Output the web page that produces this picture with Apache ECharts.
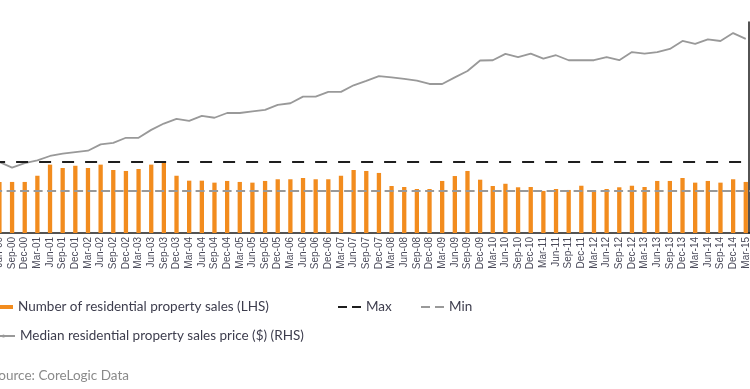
<!DOCTYPE html>
<html>
<head>
<meta charset="utf-8">
<script src="https://cdn.jsdelivr.net/npm/echarts@6/dist/echarts.min.js"></script>
<style>html,body{margin:0;padding:0;background:#fff;}#c{width:750px;height:389px;}</style>
</head>
<body>
<div id="c"></div>
<script>
var quarters = ['Jun-00','Sep-00','Dec-00','Mar-01','Jun-01','Sep-01','Dec-01','Mar-02','Jun-02','Sep-02','Dec-02','Mar-03','Jun-03','Sep-03','Dec-03','Mar-04','Jun-04','Sep-04','Dec-04','Mar-05','Jun-05','Sep-05','Dec-05','Mar-06','Jun-06','Sep-06','Dec-06','Mar-07','Jun-07','Sep-07','Dec-07','Mar-08','Jun-08','Sep-08','Dec-08','Mar-09','Jun-09','Sep-09','Dec-09','Mar-10','Jun-10','Sep-10','Dec-10','Mar-11','Jun-11','Sep-11','Dec-11','Mar-12','Jun-12','Sep-12','Dec-12','Mar-13','Jun-13','Sep-13','Dec-13','Mar-14','Jun-14','Sep-14','Dec-14','Mar-15'];

var salesCount = [36300,36300,36300,40700,48600,46200,47800,46200,48600,44800,44100,45500,48600,50700,40700,37200,37200,35800,37000,36300,35800,37000,38200,38200,39100,38200,38200,40700,44800,44100,42700,33400,32700,31300,31300,37000,40500,44100,37900,33400,35000,32500,32700,29900,31300,30600,33600,30100,31300,32500,33600,32700,37000,37000,39100,35800,37000,35800,38200,36300];

var medianPrice = [269000,248000,265000,275000,292000,301000,307000,312000,336000,342000,361000,361000,391000,415000,433000,425000,444000,437000,455000,455000,461000,467000,486000,492000,517000,517000,535000,535000,560000,577000,595000,590000,584000,578000,565000,565000,590000,614000,654000,655000,679000,667000,680000,661000,674000,655000,655000,655000,667000,655000,686000,680000,686000,698000,728000,717000,734000,728000,758000,736000];

var maxSales = 50700;
var minSales = 29900;

var seriesNames = {
  sales: 'Number of residential property sales (LHS)',
  price: 'Median residential property sales price ($) (RHS)',
  max: 'Max',
  min: 'Min'
};

var FONT = 'Lato';
var textCol = '#3d3d4d';
var legendText = {color: textCol, fontSize: 13.5, fontFamily: FONT};
var dashIcon = 'path://M0 0h9v2H0zM14 0h9v2h-9z';

var chart = echarts.init(document.getElementById('c'), null, {renderer: 'canvas'});
chart.setOption({
  animation: false,
  backgroundColor: '#ffffff',
  grid: {left: -6.9, right: -2.1, top: 22, bottom: 156, containLabel: false, outerBoundsMode: 'none'},
  xAxis: {
    type: 'category',
    data: quarters,
    boundaryGap: true,
    axisLine: {show: true, lineStyle: {color: '#1a1a1a', width: 1.5}},
    axisTick: {show: false},
    axisLabel: {interval: 0, rotate: 90, fontSize: 10, color: '#4a4a5a', fontFamily: 'Liberation Sans', margin: 4},
    splitLine: {show: false}
  },
  yAxis: [
    {type: 'value', min: 0, max: 150000, show: false, splitLine: {show: false}},
    {type: 'value', min: 0, max: 800000, position: 'right', offset: -3,
     axisLine: {show: true, lineStyle: {color: '#1a1a1a', width: 1.5}},
     axisTick: {show: false}, axisLabel: {show: false}, splitLine: {show: false}}
  ],
  legend: [
    {left: -10, top: 300, padding: 0, itemWidth: 23, itemHeight: 4, textStyle: legendText,
     data: [{name: seriesNames.sales, icon: 'rect'}]},
    {left: 338, top: 300, padding: 0, itemWidth: 23, itemHeight: 2, textStyle: legendText,
     data: [{name: seriesNames.max, icon: dashIcon}]},
    {left: 421, top: 300, padding: 0, itemWidth: 23, itemHeight: 2, textStyle: legendText,
     data: [{name: seriesNames.min, icon: dashIcon}]},
    {left: -9, top: 329, padding: 0, itemWidth: 23, itemHeight: 4, textStyle: legendText,
     data: [seriesNames.price]}
  ],
  graphic: [{
    type: 'text', x: -9, y: 376,
    style: {text: 'Source: CoreLogic Data', fill: '#8a8a8a', fontSize: 13.5, fontFamily: FONT, verticalAlign: 'middle'}
  }],
  series: [
    {name: seriesNames.sales, type: 'bar', data: salesCount, yAxisIndex: 0, barWidth: 4.3,
     itemStyle: {color: '#F28C1E'}, z: 2},
    {name: seriesNames.max, type: 'line', data: [], yAxisIndex: 0, symbol: 'none',
     lineStyle: {color: '#1e1e1e', width: 2}, itemStyle: {color: '#1e1e1e'},
     markLine: {silent: true, symbol: 'none', label: {show: false},
       lineStyle: {color: '#1e1e1e', width: 2, type: [12, 11]}, data: [{yAxis: maxSales}]}, z: 3},
    {name: seriesNames.min, type: 'line', data: [], yAxisIndex: 0, symbol: 'none',
     lineStyle: {color: '#999999', width: 2}, itemStyle: {color: '#999999'},
     markLine: {silent: true, symbol: 'none', label: {show: false},
       lineStyle: {color: '#999999', width: 2, type: [9, 4.5]}, data: [{yAxis: minSales}]}, z: 3},
    {name: seriesNames.price, type: 'line', data: medianPrice, yAxisIndex: 1, symbol: 'none',
     lineStyle: {color: '#999999', width: 1.8}, itemStyle: {color: '#999999'}, z: 4}
  ]
});
</script>
</body>
</html>
